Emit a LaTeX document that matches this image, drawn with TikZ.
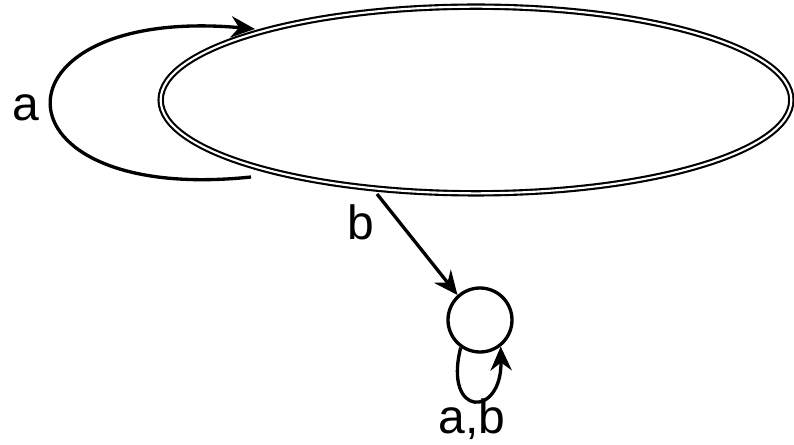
\documentclass[tikz,border=0pt]{standalone}
\usepackage{fontspec}
\setmainfont{Liberation Sans}
\usetikzlibrary{shapes.geometric,arrows.meta}
\begin{document}
\begin{tikzpicture}[x=0.75pt,y=-0.75pt,
  lbl/.style={anchor=base,inner sep=0pt,font=\fontsize{36}{42}\selectfont},
  edge/.style={line width=2.5pt,-{Stealth[length=18pt,width=16pt,inset=6pt]}},
  bigstate/.style={ellipse,draw,double,line width=1.6pt,double distance=1.6pt,minimum width=473pt,minimum height=140pt,inner sep=0pt},
  smallstate/.style={circle,draw,line width=2.5pt,minimum size=48pt,inner sep=0pt}]
\useasboundingbox (0,0) rectangle (794,445);
\node[bigstate] (q0) at (476,100) {};
\node[smallstate] (q1) at (480,320) {};
\coordinate (ls) at (251,177);
\coordinate (le) at (255,29);
\draw[edge] (ls) .. controls (-15,205) and (-15,5) .. (le);
\node[lbl] (la) at (25.5,121) {a};
\coordinate (bs) at (377,194);
\draw[edge] (bs) -- (q1.132);
\node[lbl] (lb) at (361,240) {b};
\draw[edge] (q1.235) .. controls (443,418) and (502,418) .. (q1.308);
\node[lbl] (lab) at (472,434) {a,b};
\end{tikzpicture}
\end{document}
